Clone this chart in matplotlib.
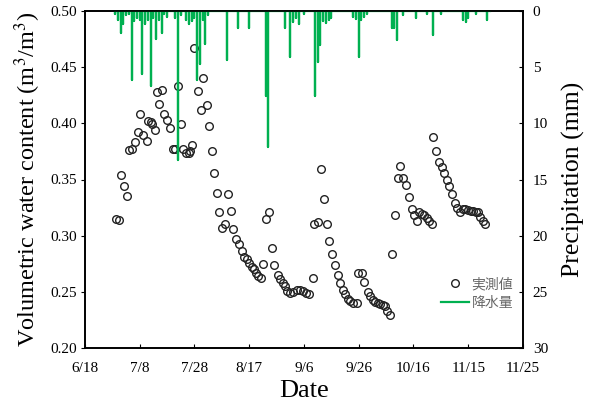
import matplotlib
matplotlib.use('Agg')
import matplotlib.pyplot as plt
import numpy as np
from matplotlib.lines import Line2D

plt.rcParams['font.family'] = ['Liberation Serif', 'DejaVu Serif']
plt.rcParams['mathtext.fontset'] = 'stix'

# x axis: days after 6/18
tick_days = [0, 20, 40, 60, 80, 100, 120, 140, 160]
tick_labels = ['6/18', '7/8', '7/28', '8/17', '9/6', '9/26', '10/16', '11/15', '11/25']

# measured volumetric water content
vwc_day = [11.3, 12.4, 13.2, 14.3, 15.2, 16.2, 17.2, 18.3, 19.3, 20.2, 21.3, 22.5, 23.1, 24.0, 24.6,
           25.6, 26.4, 27.0, 28.1, 29.0, 30.1, 31.1, 32.0, 33.0, 34.1, 35.2, 35.9, 36.9, 37.9, 38.4,
           39.1, 39.8, 41.2, 42.3, 43.2, 44.5, 45.3, 46.3, 47.2, 48.1, 49.1, 50.2, 51.1, 52.4, 53.2,
           54.2, 55.2, 56.4, 57.2, 58.2, 59.1, 60.0, 60.9, 61.7, 62.5, 63.3, 64.2, 65.1, 66.0, 67.2,
           68.2, 69.2, 70.4, 71.2, 72.2, 73.1, 73.9, 74.9, 76.1, 77.3, 78.5, 79.7, 80.7, 81.8, 83.2,
           83.8, 85.0, 86.1, 87.3, 88.3, 89.2, 90.3, 91.3, 92.3, 93.2, 94.1, 95.1, 96.2, 96.8, 98.0,
           99.3, 99.8, 101.1, 102.0, 103.3, 104.1, 105.1, 105.9, 106.9, 107.8, 108.8, 109.6, 110.4, 111.4,
           112.3, 113.2, 114.2, 115.1, 116.3, 117.3, 118.4, 119.3, 120.3, 121.2, 122.1, 123.1, 123.9,
           124.8, 125.8, 126.7, 127.2, 128.2, 129.3, 130.3, 131.1, 132.1, 133.1, 134.1, 135.1, 136.0,
           137.0, 138.0, 138.9, 139.9, 140.9, 141.9, 142.8, 143.7, 144.3, 145.3, 146.1]
vwc = [0.315, 0.314, 0.354, 0.344, 0.335, 0.376, 0.377, 0.383, 0.392, 0.408, 0.390, 0.384, 0.402, 0.401, 0.399,
       0.394, 0.428, 0.417, 0.430, 0.408, 0.403, 0.396, 0.377, 0.377, 0.433, 0.399, 0.377, 0.374, 0.374, 0.375,
       0.381, 0.467, 0.429, 0.412, 0.440, 0.416, 0.398, 0.375, 0.356, 0.338, 0.321, 0.307, 0.310, 0.337, 0.322,
       0.306, 0.297, 0.293, 0.286, 0.281, 0.279, 0.276, 0.272, 0.270, 0.267, 0.264, 0.262, 0.275, 0.315, 0.321,
       0.289, 0.274, 0.265, 0.261, 0.258, 0.255, 0.251, 0.249, 0.250, 0.252, 0.252, 0.251, 0.249, 0.248, 0.262,
       0.310, 0.312, 0.359, 0.333, 0.310, 0.295, 0.284, 0.274, 0.265, 0.258, 0.252, 0.248, 0.244, 0.242, 0.240,
       0.240, 0.267, 0.267, 0.259, 0.250, 0.246, 0.243, 0.241, 0.240, 0.239, 0.238, 0.237, 0.233, 0.229,
       0.284, 0.318, 0.351, 0.362, 0.351, 0.345, 0.334, 0.324, 0.318, 0.313, 0.321, 0.319, 0.318,
       0.316, 0.313, 0.310, 0.388, 0.375, 0.366, 0.361, 0.356, 0.350, 0.344, 0.337, 0.329, 0.325,
       0.321, 0.324, 0.324, 0.323, 0.322, 0.322, 0.321, 0.321, 0.317, 0.313, 0.310]

# daily precipitation (mm); days not listed had no rain
rain_start, rain_end = 11, 148
rain_days = [11, 12, 13, 14, 15, 16, 17, 18, 19, 20, 21, 22, 23, 24, 25, 26, 27, 28, 29, 30,
             33, 34, 35, 37, 38, 39, 40, 41, 42, 43, 44, 45,
             52, 56, 60, 66, 67, 73, 75, 76, 77, 78, 80, 84, 85, 86, 87, 88, 89, 90,
             98, 99, 100, 101, 102, 103, 112, 113, 114, 116, 121, 125, 127, 130,
             138, 139, 140, 143, 147]
rain_mm = [0.3, 0.8, 2.0, 1.2, 0.4, 0.3, 6.1, 0.9, 0.6, 0.8, 5.6, 1.2, 0.8, 6.7, 0.6, 2.5, 0.8, 2.0, 0.3, 0.5,
           0.6, 13.3, 0.4, 0.8, 1.2, 0.9, 0.6, 6.1, 4.7, 0.8, 2.9, 0.4,
           4.4, 1.5, 1.5, 7.6, 12.1, 1.5, 4.1, 1.0, 0.6, 1.2, 0.3, 7.6, 4.5, 3.0, 0.9, 1.1, 0.8, 0.6,
           0.5, 0.7, 4.1, 0.8, 0.5, 0.3, 1.5, 1.5, 2.6, 0.4, 0.6, 0.3, 2.1, 0.3,
           0.8, 1.0, 0.6, 0.3, 0.8]

days = np.arange(rain_start, rain_end + 1)
precip = np.zeros(len(days))
for d, mm in zip(rain_days, rain_mm):
    precip[d - rain_start] = mm
# spikes: go down to the value and back to 0 on each day
px = np.repeat(days, 3)
py = np.column_stack([np.zeros(len(days)), precip, np.zeros(len(days))]).ravel()

green = '#00B050'

fig = plt.figure(figsize=(5.9, 4.12), dpi=100)
ax = fig.add_axes([85 / 590, 1 - 348 / 412, 438 / 590, 337 / 412])
ax.plot(vwc_day, vwc, 'o', mfc='none', mec='#222222', ms=5.5, mew=1.0)
ax.set_xlim(0, 160)
ax.set_ylim(0.20, 0.50)
ax.set_yticks(np.arange(0.20, 0.501, 0.05))
ax.set_yticklabels([f'{v:.2f}' for v in np.arange(0.20, 0.501, 0.05)])
ax.set_xticks(tick_days)
ax.set_xticklabels(tick_labels)
ax.tick_params(axis='x', direction='in', length=3, labelsize=11, pad=10)
ax.tick_params(axis='y', direction='out', length=3, labelsize=11, pad=3)
ax.set_xlabel('Date', fontsize=19, labelpad=4)
ax.set_ylabel(r'Volumetric water content (m$^3$/m$^3$)', fontsize=17.5, labelpad=5)
for s in ax.spines.values():
    s.set_linewidth(1.2)

ax2 = ax.twinx()
ax2.plot(px, py, color=green, lw=1.6)
ax2.set_ylim(30, 0)
ax2.set_yticks(range(0, 31, 5))
ax2.tick_params(axis='y', direction='in', length=3, labelsize=11, pad=7)
ax2.set_ylabel('Precipitation (mm)', fontsize=18.5, labelpad=10)
for s in ax2.spines.values():
    s.set_linewidth(1.2)

handles = [Line2D([], [], ls='none', marker='o', mfc='none', mec='#222222', ms=5.5, mew=1.0),
           Line2D([], [], color=green, lw=1.6)]
leg = ax2.legend(handles, ['実測値', '降水量'], loc='upper left',
                 bbox_to_anchor=(434 / 590, 1 - 270 / 412), bbox_transform=fig.transFigure,
                 frameon=False, borderpad=0, handlelength=2.0, handletextpad=0.2, labelspacing=0.35,
                 prop={'family': ['Noto Sans CJK JP'], 'size': 10})
for t in leg.get_texts():
    t.set_color('#666666')

fig.savefig('out.png', dpi=100)
plt.close(fig)
